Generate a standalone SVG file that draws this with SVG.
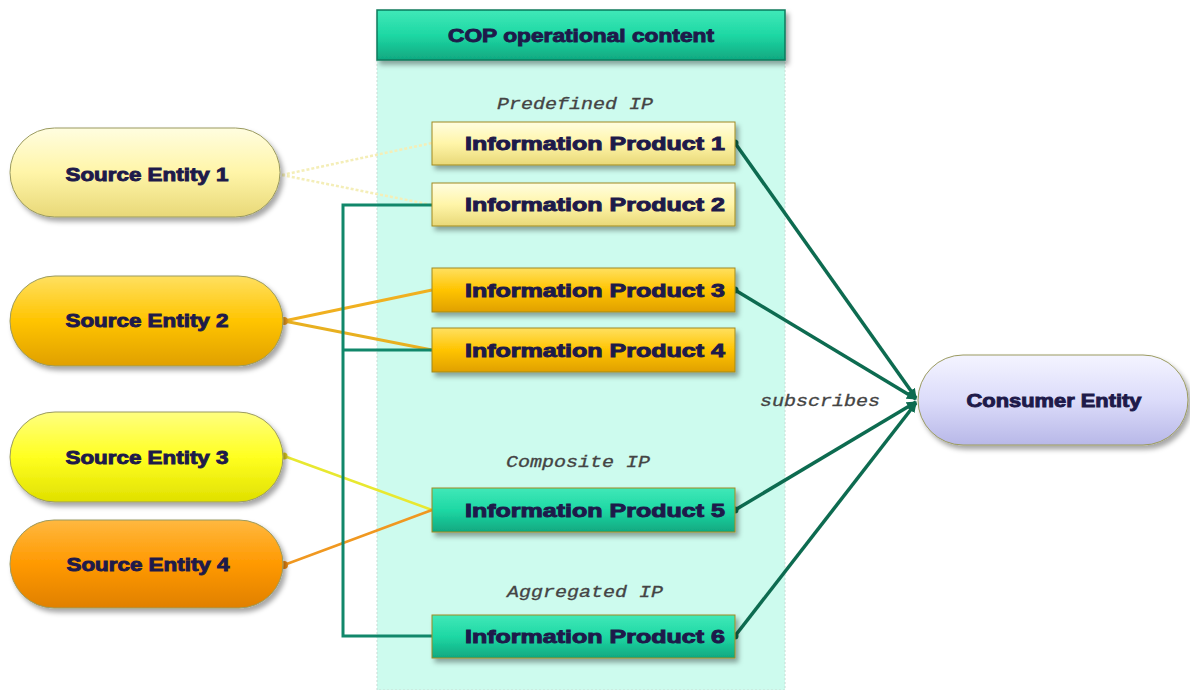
<svg xmlns="http://www.w3.org/2000/svg" width="1190" height="690" viewBox="0 0 1190 690">
<defs>
<linearGradient id="gLY" x1="0" y1="0" x2="0" y2="1"><stop offset="0" stop-color="#fffde0"/><stop offset="0.5" stop-color="#fff5a8"/><stop offset="1" stop-color="#e8d878"/></linearGradient>
<linearGradient id="gGold" x1="0" y1="0" x2="0" y2="1"><stop offset="0" stop-color="#ffe060"/><stop offset="0.5" stop-color="#ffc400"/><stop offset="1" stop-color="#e0a000"/></linearGradient>
<linearGradient id="gY" x1="0" y1="0" x2="0" y2="1"><stop offset="0" stop-color="#ffff80"/><stop offset="0.5" stop-color="#ffff20"/><stop offset="1" stop-color="#e0e000"/></linearGradient>
<linearGradient id="gO" x1="0" y1="0" x2="0" y2="1"><stop offset="0" stop-color="#ffb840"/><stop offset="0.5" stop-color="#ff9900"/><stop offset="1" stop-color="#e08000"/></linearGradient>
<linearGradient id="gT" x1="0" y1="0" x2="0" y2="1"><stop offset="0" stop-color="#40e8b8"/><stop offset="0.5" stop-color="#1ed8a4"/><stop offset="1" stop-color="#10a880"/></linearGradient>
<linearGradient id="gL" x1="0" y1="0" x2="0" y2="1"><stop offset="0" stop-color="#f4f4ff"/><stop offset="0.5" stop-color="#dcdcfa"/><stop offset="1" stop-color="#b8b8e8"/></linearGradient>
<filter id="sh" x="-10%" y="-20%" width="125%" height="150%"><feDropShadow dx="3" dy="4" stdDeviation="2.5" flood-color="#000" flood-opacity="0.35"/></filter>
<marker id="arr" markerWidth="10" markerHeight="10" refX="9" refY="5" orient="auto" markerUnits="userSpaceOnUse"><path d="M0,0 L10,5 L0,10 z" fill="#0d6b50"/></marker>
<marker id="dot" markerWidth="8" markerHeight="8" refX="4" refY="4" markerUnits="userSpaceOnUse"><circle cx="4" cy="4" r="3.5" fill="#0d6b50"/></marker>
</defs>
<style>
.t{font-family:"Liberation Sans",Arial,sans-serif;font-weight:bold;font-size:18px;fill:#1e1a4a;stroke:#1e1a4a;stroke-width:0.9;text-anchor:middle}
.lab{font-family:"Liberation Mono","Courier New",monospace;font-style:italic;font-size:16px;fill:#444;stroke:#444;stroke-width:0.3;text-anchor:middle}
.ip{stroke:#a08a20;stroke-width:1;filter:url(#sh)}
.pill{stroke:#9a9a60;stroke-width:1;filter:url(#sh)}
.sub{fill:none;stroke:#0d6b50;stroke-width:3.5;marker-end:url(#arr);marker-start:url(#dot)}
.agg{fill:none;stroke:#11876a;stroke-width:3}
</style>
<rect width="1190" height="690" fill="#fff"/>
<g id="panel">
<rect x="377" y="58" width="408" height="632" fill="#cdfbee" stroke="#c8dcd4" stroke-width="1" stroke-dasharray="2,2"/>
</g>
<g id="header">
<rect x="377" y="10" width="408" height="50" fill="url(#gT)" stroke="#0c7a5c" stroke-width="1.5" filter="url(#sh)"/>
<text class="t" x="581" y="42" textLength="266" lengthAdjust="spacingAndGlyphs">COP operational content</text>
</g>
<text class="lab" x="575" y="109" textLength="156" lengthAdjust="spacingAndGlyphs">Predefined IP</text>
<text class="lab" x="578" y="467" textLength="144" lengthAdjust="spacingAndGlyphs">Composite IP</text>
<text class="lab" x="585" y="597" textLength="156" lengthAdjust="spacingAndGlyphs">Aggregated IP</text>
<text class="lab" x="820" y="406" textLength="120" lengthAdjust="spacingAndGlyphs">subscribes</text>
<g id="connectors">
<path d="M282,175 L432,143" stroke="#f4eeb8" stroke-width="2.5" stroke-dasharray="3,2" fill="none"/>
<path d="M282,175 L432,205" stroke="#f4eeb8" stroke-width="2.5" stroke-dasharray="3,2" fill="none"/>
<path d="M284,321 L432,290" stroke="#f0b020" stroke-width="3" fill="none"/>
<path d="M284,321 L432,350" stroke="#e8b020" stroke-width="3" fill="none"/>
<path d="M284,456 L432,510" stroke="#e8e830" stroke-width="2.5" fill="none"/>
<path d="M284,565 L432,510" stroke="#f09820" stroke-width="2.5" fill="none"/>
<path class="agg" d="M432,205 L343,205 L343,636 L432,636"/>
<path class="agg" d="M343,350 L432,350"/>
<circle cx="284" cy="321" r="4" fill="#f0a020"/>
<circle cx="284" cy="456" r="3.5" fill="#e0d020"/>
<circle cx="284" cy="565" r="4" fill="#f08a10"/>
<path class="sub" d="M735,143 L916,398"/>
<path class="sub" d="M735,290 L916,399"/>
<path class="sub" d="M735,510 L916,402"/>
<path class="sub" d="M735,636 L916,403"/>
</g>
<g id="ip1"><rect class="ip" x="432" y="122" width="303" height="43" fill="url(#gLY)"/><text class="t" x="595" y="150" textLength="260" lengthAdjust="spacingAndGlyphs">Information Product 1</text></g>
<g id="ip2"><rect class="ip" x="432" y="183" width="303" height="43" fill="url(#gLY)"/><text class="t" x="595" y="211" textLength="260" lengthAdjust="spacingAndGlyphs">Information Product 2</text></g>
<g id="ip3"><rect class="ip" x="432" y="268" width="303" height="44" fill="url(#gGold)"/><text class="t" x="595" y="297" textLength="260" lengthAdjust="spacingAndGlyphs">Information Product 3</text></g>
<g id="ip4"><rect class="ip" x="432" y="328" width="303" height="44" fill="url(#gGold)"/><text class="t" x="595" y="357" textLength="260" lengthAdjust="spacingAndGlyphs">Information Product 4</text></g>
<g id="ip5"><rect class="ip" x="432" y="488" width="303" height="44" fill="url(#gT)" stroke="#0c7a5c"/><text class="t" x="595" y="517" textLength="260" lengthAdjust="spacingAndGlyphs">Information Product 5</text></g>
<g id="ip6"><rect class="ip" x="432" y="615" width="303" height="43" fill="url(#gT)" stroke="#0c7a5c"/><text class="t" x="595" y="643" textLength="260" lengthAdjust="spacingAndGlyphs">Information Product 6</text></g>
<g id="se1"><rect class="pill" x="10" y="128" width="270" height="89" rx="44.5" fill="url(#gLY)"/><text class="t" x="147" y="181" textLength="163" lengthAdjust="spacingAndGlyphs">Source Entity 1</text></g>
<g id="se2"><rect class="pill" x="10" y="276" width="273" height="90" rx="45" fill="url(#gGold)"/><text class="t" x="147" y="327" textLength="163" lengthAdjust="spacingAndGlyphs">Source Entity 2</text></g>
<g id="se3"><rect class="pill" x="10" y="412" width="273" height="90" rx="45" fill="url(#gY)"/><text class="t" x="147" y="464" textLength="163" lengthAdjust="spacingAndGlyphs">Source Entity 3</text></g>
<g id="se4"><rect class="pill" x="10" y="520" width="273" height="88" rx="44" fill="url(#gO)"/><text class="t" x="148" y="571" textLength="163" lengthAdjust="spacingAndGlyphs">Source Entity 4</text></g>
<g id="consumer"><rect class="pill" x="918" y="355" width="270" height="90" rx="45" fill="url(#gL)" stroke="#8080b0"/><text class="t" x="1054" y="407" textLength="175" lengthAdjust="spacingAndGlyphs">Consumer Entity</text></g>
</svg>
